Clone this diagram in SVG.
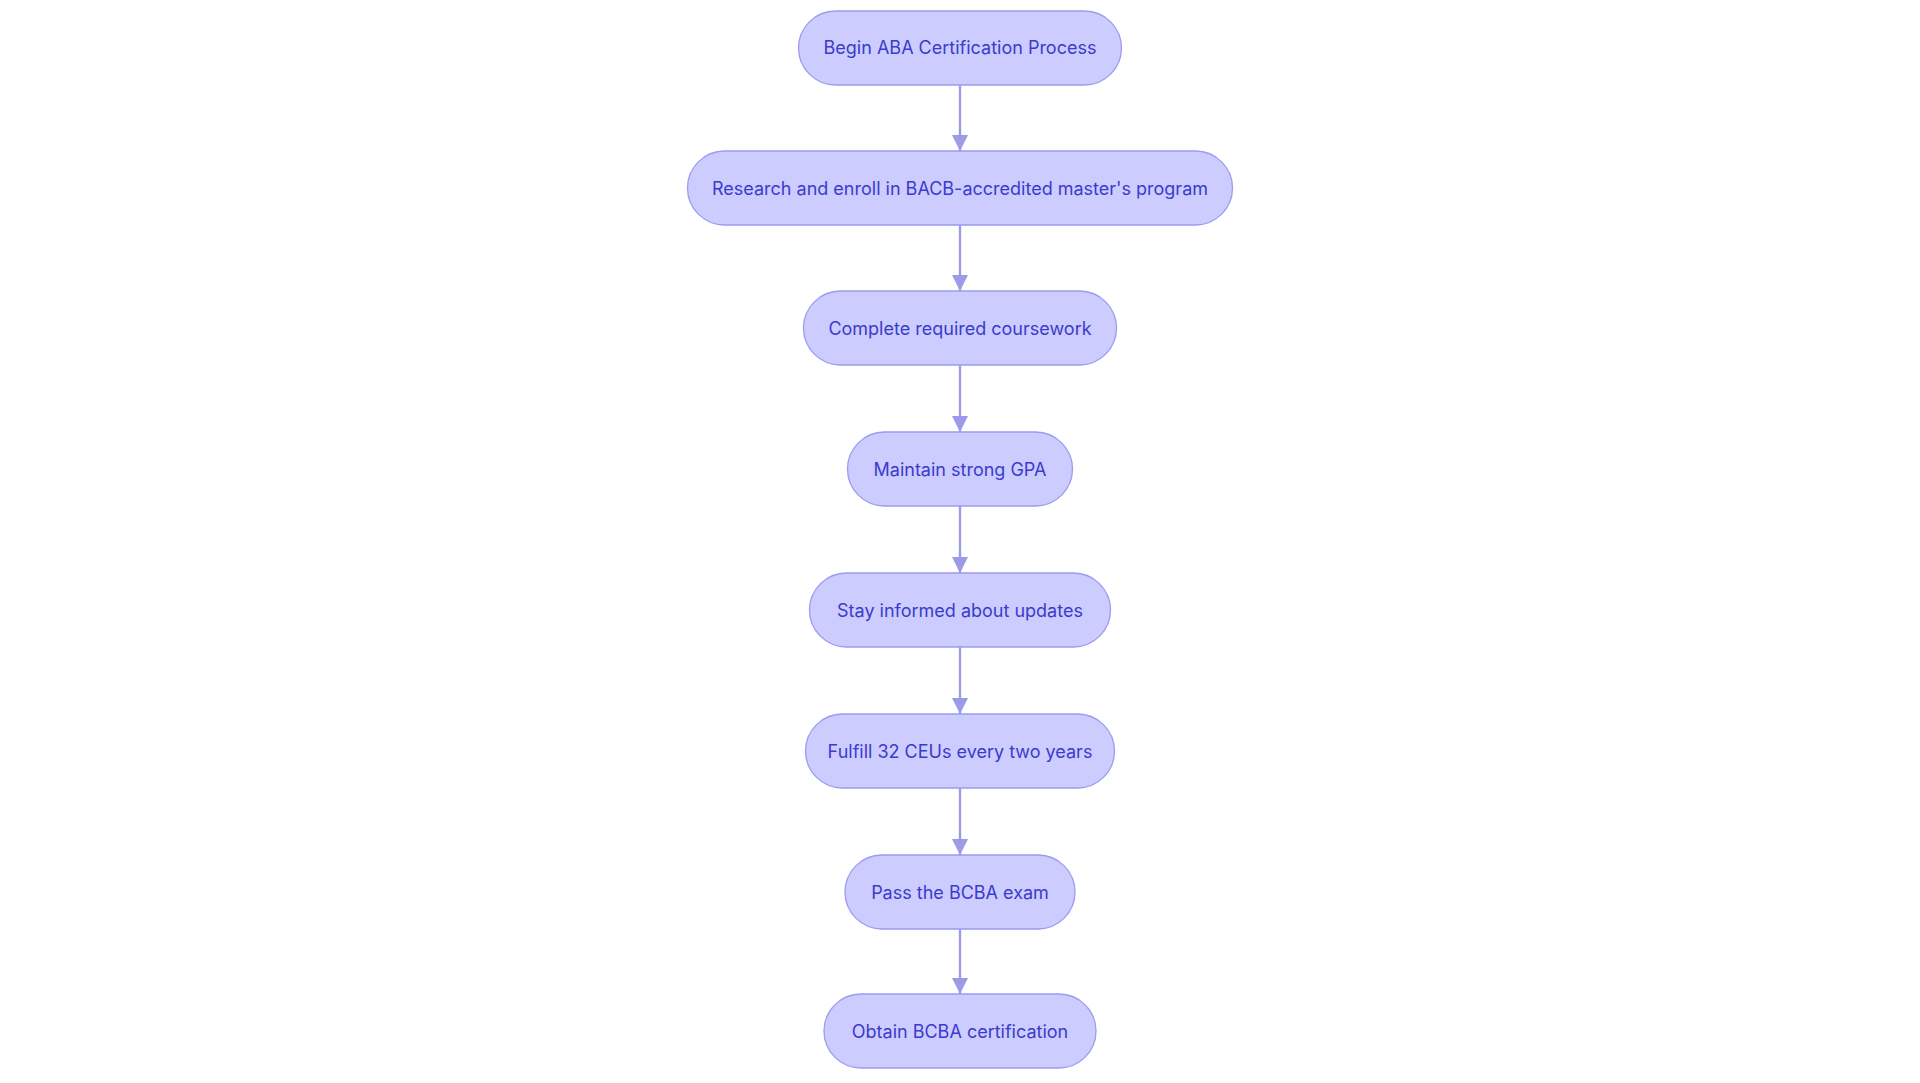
<svg xmlns="http://www.w3.org/2000/svg" width="1920" height="1083" viewBox="0 0 1920 1083">
<style>
.n rect{fill:#ccccff;stroke:#9b9bf0;stroke-width:1.3}
.n text{font-family:Inter,"Noto Sans",sans-serif;font-size:18px;fill:#3b3bcc;text-anchor:middle;dominant-baseline:central}
.e line{stroke:#9b9be8;stroke-width:2.4}
</style>
<defs><marker id="a" viewBox="0 0 10 10" refX="10" refY="5" markerWidth="16" markerHeight="16" orient="auto" markerUnits="userSpaceOnUse"><path d="M0,0L10,5L0,10z" fill="#9b9be8"/></marker></defs>
<rect width="1920" height="1083" fill="#fff"/>
<g class="e">
<line x1="960" y1="85" x2="960" y2="151" marker-end="url(#a)"/>
<line x1="960" y1="225" x2="960" y2="291" marker-end="url(#a)"/>
<line x1="960" y1="365" x2="960" y2="432" marker-end="url(#a)"/>
<line x1="960" y1="506" x2="960" y2="573" marker-end="url(#a)"/>
<line x1="960" y1="647" x2="960" y2="714" marker-end="url(#a)"/>
<line x1="960" y1="788" x2="960" y2="855" marker-end="url(#a)"/>
<line x1="960" y1="929" x2="960" y2="994" marker-end="url(#a)"/>
</g>
<g id="n1" class="n"><rect x="798.5" y="11" width="323" height="74" rx="37"/><text x="960" y="47">Begin ABA Certification Process</text></g>
<g id="n2" class="n"><rect x="687.5" y="151" width="545" height="74" rx="37"/><text x="960" y="188">Research and enroll in BACB-accredited master's program</text></g>
<g id="n3" class="n"><rect x="803.5" y="291" width="313" height="74" rx="37"/><text x="960" y="328">Complete required coursework</text></g>
<g id="n4" class="n"><rect x="847.5" y="432" width="225" height="74" rx="37"/><text x="960" y="469">Maintain strong GPA</text></g>
<g id="n5" class="n"><rect x="809.5" y="573" width="301" height="74" rx="37"/><text x="960" y="610">Stay informed about updates</text></g>
<g id="n6" class="n"><rect x="805.5" y="714" width="309" height="74" rx="37"/><text x="960" y="751">Fulfill 32 CEUs every two years</text></g>
<g id="n7" class="n"><rect x="845" y="855" width="230" height="74" rx="37"/><text x="960" y="892">Pass the BCBA exam</text></g>
<g id="n8" class="n"><rect x="824" y="994" width="272" height="74" rx="37"/><text x="960" y="1031">Obtain BCBA certification</text></g>
</svg>
